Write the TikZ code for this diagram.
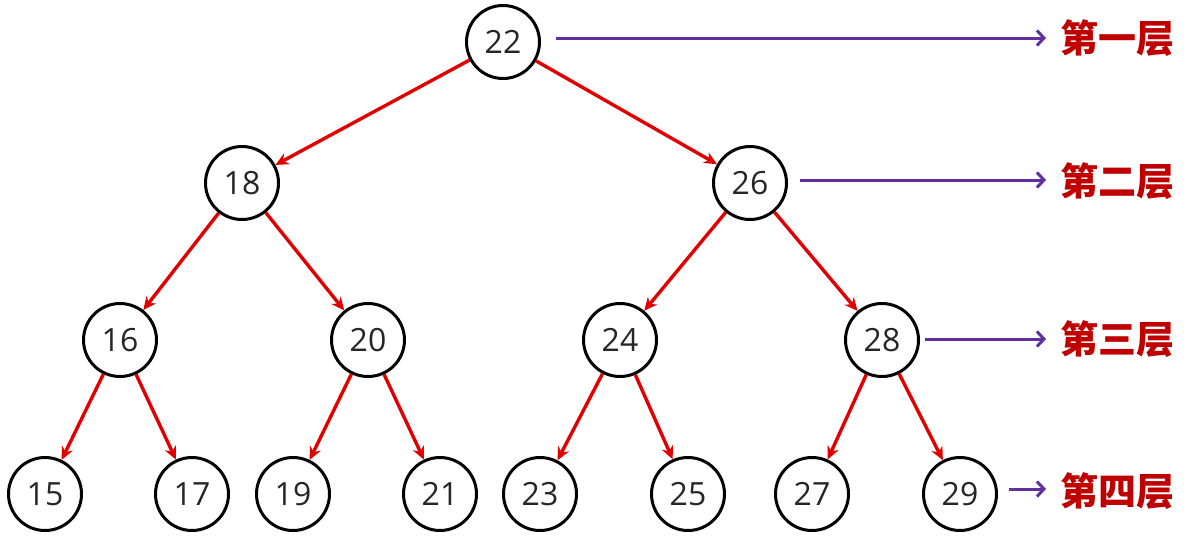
\documentclass[tikz,border=0pt]{standalone}
\usepackage{fontspec}
\setmainfont{Open Sans}
\newfontfamily\cjk{Noto Sans CJK SC}
\usetikzlibrary{arrows.meta}
\definecolor{edgered}{HTML}{E00000}
\definecolor{lvpurple}{HTML}{6030A0}
\definecolor{lvred}{HTML}{C00000}
\begin{document}
\begin{tikzpicture}[x=1pt,y=-1pt,
  tn/.style={circle,draw=black,line width=3pt,minimum size=73pt,inner sep=0pt,font=\fontsize{32}{32}\selectfont,text=black!85},
  ed/.style={draw=edgered,line width=3.4pt,-{Stealth[length=13pt,width=12pt]}},
  lv/.style={draw=lvpurple,line width=3pt,-{Straight Barb[length=7pt,width=15pt,line width=3pt]}},
  lt/.style={font=\cjk\bfseries\fontsize{38}{38}\selectfont,text=lvred,anchor=west,inner sep=0pt}]
\useasboundingbox (0,0) rectangle (1193,546);
\node[tn] (n22) at (503,42) {22};
\node[tn] (n18) at (242,183) {18};
\node[tn] (n26) at (750,183) {26};
\node[tn] (n16) at (120,340) {16};
\node[tn] (n20) at (368,340) {20};
\node[tn] (n24) at (620,340) {24};
\node[tn] (n28) at (882,340) {28};
\node[tn] (n15) at (45,494) {15};
\node[tn] (n17) at (192,494) {17};
\node[tn] (n19) at (293,494) {19};
\node[tn] (n21) at (440,494) {21};
\node[tn] (n23) at (540,494) {23};
\node[tn] (n25) at (688,494) {25};
\node[tn] (n27) at (812,494) {27};
\node[tn] (n29) at (960,494) {29};
\foreach \a/\b in {22/18,22/26,18/16,18/20,26/24,26/28,16/15,16/17,20/19,20/21,24/23,24/25,28/27,28/29}
  \draw[ed] (n\a) -- (n\b);
\node[lt] (l1) at (1060,38) {第一层};
\node[lt] (l2) at (1060,181) {第二层};
\node[lt] (l3) at (1060,339) {第三层};
\node[lt] (l4) at (1060,491) {第四层};
\coordinate (s1) at (556,38);
\coordinate (s2) at (800,180);
\coordinate (s3) at (925,339);
\coordinate (s4) at (1009,489);
\draw[lv] (s1) -- ([xshift=-14pt]l1.west |- s1);
\draw[lv] (s2) -- ([xshift=-14pt]l2.west |- s2);
\draw[lv] (s3) -- ([xshift=-14pt]l3.west |- s3);
\draw[lv] (s4) -- ([xshift=-14pt]l4.west |- s4);
\end{tikzpicture}
\end{document}
